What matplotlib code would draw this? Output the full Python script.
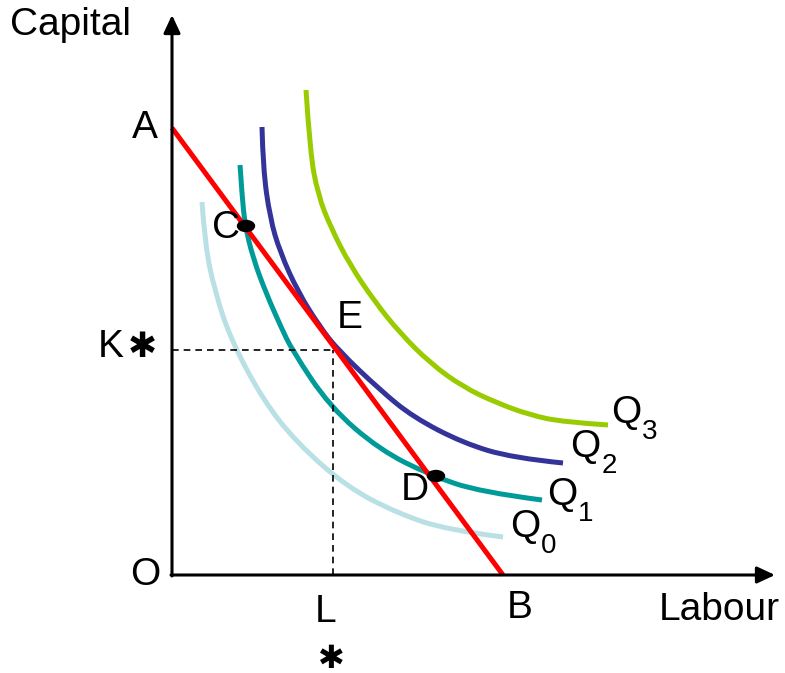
import numpy as np
from matplotlib import pyplot as plt
from matplotlib.patches import Ellipse, PathPatch
from matplotlib.path import Path

# isocost line end points (A on capital axis, B on labour axis)
isocost_L = [0, 331]
isocost_K = [447, 0]

# isoquants, points (labour, capital)
Q0_L = [30, 33, 43, 59, 91, 125, 175, 225, 275, 331]
Q0_K = [373, 330, 283, 235, 175, 132, 88, 62, 45, 38]
Q1_L = [68, 70, 73, 81, 94, 109, 120, 158, 208, 258, 308, 370]
Q1_K = [410, 380, 350, 317, 282, 248, 225, 168, 125, 100, 83, 75]
Q2_L = [90, 91, 98, 108, 126, 148, 166, 208, 241, 291, 341, 391]
Q2_K = [448, 407, 357, 323, 283, 248, 225, 185, 158, 132, 117, 112]
Q3_L = [134, 138, 146, 159, 178, 203, 228, 258, 291, 325, 358, 391, 436]
Q3_K = [485, 423, 380, 347, 310, 273, 242, 212, 188, 172, 160, 153, 150]

# optimum and the two other points on the isocost line
L_star, K_star = 161, 225
C_pt = (74, 349)
D_pt = (264, 99)

colors = {"Q0": "#b9e0e4", "Q1": "#009b99", "Q2": "#333399", "Q3": "#99cc00"}


def smooth_curve(xs, ys):
    # quadratic bezier through the midpoints of the read points
    pts = np.column_stack([xs, ys]).astype(float)
    verts = [pts[0]]
    codes = [Path.MOVETO]
    for i in range(1, len(pts) - 1):
        end = pts[i + 1] if i == len(pts) - 2 else (pts[i] + pts[i + 1]) / 2
        verts += [pts[i], end]
        codes += [Path.CURVE3, Path.CURVE3]
    return Path(verts, codes)


plt.rcParams["font.family"] = ["Liberation Sans", "DejaVu Sans"]
fig = plt.figure(figsize=(7.85, 6.73), dpi=100)
ax = fig.add_axes([0, 0, 1, 1])
ax.set_xlim(-172, 613)
ax.set_ylim(-98, 575)
ax.axis("off")

lw = 3.6
for xs, ys, c in [(Q0_L, Q0_K, colors["Q0"]), (Q1_L, Q1_K, colors["Q1"]), (Q3_L, Q3_K, colors["Q3"])]:
    ax.add_patch(PathPatch(smooth_curve(xs, ys), fill=False, edgecolor=c, lw=lw, capstyle="butt"))
ax.plot(isocost_L, isocost_K, color="#ff0000", lw=lw, solid_capstyle="butt")
ax.add_patch(PathPatch(smooth_curve(Q2_L, Q2_K), fill=False, edgecolor=colors["Q2"], lw=lw, capstyle="butt"))

# dashed guides to K* and L*
ax.plot([0, L_star], [K_star, K_star], color="k", lw=1.2, ls=(0, (4, 3)))
ax.plot([L_star, L_star], [0, K_star], color="k", lw=1.2, ls=(0, (4, 3)))

# axes with arrows
arrow = dict(arrowstyle="-|>,head_length=0.9,head_width=0.42", lw=2.2, color="k",
             mutation_scale=12, shrinkA=0, shrinkB=0)
ax.annotate("", xy=(0, 560), xytext=(0, -1), arrowprops=arrow)
ax.annotate("", xy=(603, 0), xytext=(-1, 0), arrowprops=arrow)

for p in [C_pt, D_pt]:
    ax.add_patch(Ellipse(p, 17, 11, color="k", zorder=5))

fs = 28
ax.text(-162, 550, "Capital", fontsize=fs, ha="left", va="center")
ax.text(-27, 447, "A", fontsize=fs, ha="center", va="center")
ax.text(-61, 228, "K", fontsize=fs, ha="center", va="center")
ax.text(-30, 228, "\u2731", fontsize=25, ha="center", va="center", family="DejaVu Sans")
ax.text(-27, 0, "O", fontsize=fs, ha="center", va="center")
ax.text(54, 347, "C", fontsize=fs, ha="center", va="center")
ax.text(178, 257, "E", fontsize=fs, ha="center", va="center")
ax.text(243, 85, "D", fontsize=fs, ha="center", va="center")
ax.text(154, -37, "L", fontsize=fs, ha="center", va="center")
ax.text(159, -84, "\u2731", fontsize=23, ha="center", va="center", family="DejaVu Sans")
ax.text(348, -33, "B", fontsize=fs, ha="center", va="center")
ax.text(547, -35, "Labour", fontsize=fs, ha="center", va="center")

q_labels = [("Q", "3", 454, 162), ("Q", "2", 413, 128), ("Q", "1", 390, 80), ("Q", "0", 353, 48)]
for q, sub, x, y in q_labels:
    ax.text(x, y, q, fontsize=fs, ha="center", va="center")
    ax.text(x + 24, y - 19, sub, fontsize=20, ha="center", va="center")

plt.savefig("out.png", dpi=100)
